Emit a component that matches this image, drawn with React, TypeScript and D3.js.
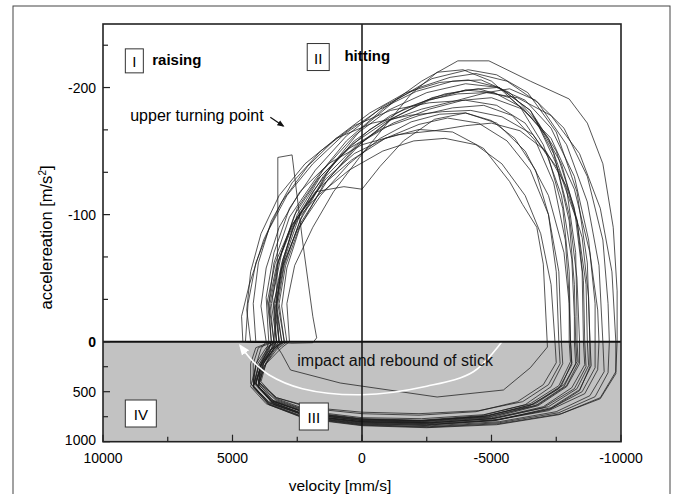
import React from 'react';
import * as d3 from 'd3';

// velocity [mm/s], acceleration [m/s^2] (negative = up on the chart)
// each loop is one stroke cycle
const loop01 = [[3300,0],[3450,-35],[3100,-70],[2500,-105],[1500,-135],[300,-162],[-1000,-182],[-2500,-196],[-4000,-203],[-5300,-200],[-6500,-182],[-7400,-148],[-8000,-100],[-8300,-50],[-8400,0],[-8400,220],[-7900,450],[-6800,640],[-5000,760],[-2500,805],[0,790],[2000,725],[3500,590],[4100,420],[3900,230],[3500,80]];
const loop02 = [[3200,5],[3300,-30],[3000,-62],[2300,-100],[1200,-138],[0,-168],[-1300,-190],[-2700,-207],[-4100,-214],[-5200,-210],[-6400,-196],[-7500,-165],[-8300,-118],[-8700,-62],[-8800,0],[-8850,240],[-8400,480],[-7300,660],[-5300,780],[-2800,825],[0,810],[2100,745],[3600,610],[4200,440],[4000,240],[3600,90],[3100,12],[2900,4]];
const loop03 = [[3400,0],[3600,-30],[3400,-62],[2800,-98],[1800,-128],[600,-158],[-800,-183],[-2300,-205],[-3700,-221],[-4900,-221],[-6500,-205],[-8000,-191],[-8700,-172],[-9300,-140],[-9700,-90],[-9850,-40],[-9850,0],[-9800,300],[-9200,560],[-7600,730],[-5200,830],[-2500,860],[0,840],[2200,770],[3700,620],[4300,450],[4100,250],[3700,90]];
const loop04 = [[3200,0],[3350,-30],[3000,-65],[2400,-100],[1400,-128],[300,-148],[-900,-160],[-2200,-167],[-3500,-165],[-4700,-152],[-5700,-126],[-6200,-108],[-6750,-90],[-7000,-61],[-7150,0],[-7160,53],[-6500,260],[-5460,483],[-2900,553],[840,413],[2760,283],[3100,120],[3300,40]];
const loop05 = [[3500,0],[3600,-30],[3300,-60],[2700,-92],[1800,-118],[700,-122],[0,-120],[-700,-138],[-1600,-158],[-2800,-175],[-4000,-180],[-5200,-172],[-6300,-150],[-7200,-115],[-7800,-70],[-8000,-30],[-8050,0],[-8100,230],[-7600,470],[-6400,650],[-4600,750],[-2200,790],[0,775],[1900,715],[3300,590],[4000,430],[3900,240],[3600,90]];
const loop06 = [[3000,0],[3250,-30],[3000,-60],[2400,-95],[1400,-130],[200,-155],[-1200,-172],[-2600,-183],[-3900,-190],[-5000,-192],[-6200,-183],[-7300,-160],[-8200,-120],[-8800,-70],[-9100,-25],[-9150,0],[-9100,280],[-8600,520],[-7200,690],[-5000,790],[-2500,835],[0,820],[2000,760],[3400,630],[4000,460],[3800,260],[3400,90]];
const loop07 = [[4500,0],[4400,-30],[4100,-62],[3600,-88],[2900,-115],[1900,-140],[700,-163],[-700,-183],[-2100,-197],[-3500,-205],[-4600,-206],[-5700,-196],[-6700,-175],[-7500,-140],[-8000,-95],[-8200,-45],[-8250,0],[-8300,200],[-7800,430],[-6700,620],[-4900,740],[-2400,790],[0,775],[2000,715],[3500,580],[4200,400],[4100,220],[3700,60],[3400,10],[4200,5]];
const loop08 = [[3100,0],[3300,-25],[3150,-55],[2700,-88],[1900,-118],[900,-145],[-300,-167],[-1700,-184],[-3200,-195],[-4500,-199],[-5700,-192],[-6800,-172],[-7700,-140],[-8300,-96],[-8550,-48],[-8600,0],[-8650,250],[-8200,470],[-7000,660],[-5000,770],[-2600,810],[0,800],[2100,740],[3500,600],[4100,410],[3800,210],[3400,70]];
const loop09 = [[3400,0],[3550,-30],[3250,-62],[2600,-95],[1600,-122],[400,-143],[-900,-160],[-2200,-171],[-3300,-176],[-4500,-172],[-5600,-158],[-6500,-135],[-7200,-100],[-7600,-55],[-7700,0],[-7750,220],[-7300,450],[-6300,630],[-4600,740],[-2300,785],[0,770],[1900,710],[3300,580],[4000,410],[3800,220],[3500,70]];
const loop10 = [[3600,0],[3700,-35],[3400,-70],[2800,-105],[1800,-135],[600,-162],[-800,-185],[-2200,-200],[-3400,-208],[-4400,-211],[-5600,-205],[-6800,-188],[-7900,-155],[-8700,-110],[-9150,-60],[-9300,0],[-9350,300],[-8800,540],[-7500,700],[-5300,800],[-2700,840],[0,825],[2200,755],[3600,620],[4200,450],[4000,250],[3700,90]];
const loop11 = [[3300,0],[3500,-30],[3200,-65],[2600,-100],[1700,-128],[500,-152],[-800,-168],[-2200,-178],[-3500,-184],[-4700,-186],[-5800,-178],[-6700,-158],[-7400,-125],[-7850,-80],[-8000,-35],[-8000,0],[-8050,200],[-7600,440],[-6500,620],[-4700,730],[-2300,770],[0,760],[1900,700],[3300,570],[3900,400],[3700,210],[3400,60]];
const loop12 = [[2900,0],[3100,-28],[2900,-58],[2400,-90],[1500,-123],[300,-152],[-1100,-175],[-2600,-190],[-4000,-198],[-5200,-200],[-6300,-190],[-7300,-168],[-8200,-130],[-8750,-80],[-9000,-30],[-9000,0],[-9000,260],[-8500,500],[-7200,680],[-5100,790],[-2500,830],[0,815],[2000,755],[3400,620],[4000,450],[3800,250],[3300,80]];
const loop13 = [[3500,0],[3650,-32],[3350,-62],[2700,-92],[1700,-115],[500,-135],[-800,-150],[-2000,-158],[-3200,-160],[-4400,-155],[-5400,-140],[-6300,-115],[-6900,-85],[-7300,-45],[-7450,0],[-7500,210],[-7000,430],[-6000,600],[-4400,700],[-2200,735],[0,720],[1900,670],[3300,560],[4000,400],[3900,220],[3600,70]];
const loop14 = [[4600,0],[4650,-20],[4350,-45],[3800,-80],[3100,-110],[2100,-138],[1000,-160],[-300,-180],[-1700,-196],[-3000,-204],[-4100,-206],[-5300,-200],[-6500,-182],[-7500,-150],[-8200,-105],[-8500,-55],[-8550,0],[-8600,230],[-8100,460],[-7000,650],[-5000,770],[-2500,815],[0,800],[2100,740],[3500,600],[4100,420],[3900,230],[3600,50],[3300,8],[4300,6]];
const loop15 = [[3200,0],[3400,-30],[3100,-62],[2500,-98],[1500,-130],[300,-158],[-1100,-178],[-2500,-190],[-3700,-195],[-4800,-196],[-6000,-192],[-7300,-178],[-8400,-148],[-9200,-105],[-9650,-55],[-9800,0],[-9800,320],[-9200,570],[-7700,720],[-5300,820],[-2600,855],[0,835],[2200,765],[3600,630],[4200,460],[4000,260],[3500,80]];
const loop16 = [[3000,0],[3200,-30],[2950,-60],[2350,-94],[1300,-128],[100,-155],[-1200,-176],[-2700,-192],[-4000,-198],[-5100,-196],[-6200,-184],[-7200,-160],[-7900,-120],[-8250,-70],[-8300,-20],[-8300,0],[-8350,210],[-7900,440],[-6800,630],[-4900,750],[-2400,795],[0,785],[2000,725],[3400,595],[4100,425],[3900,235],[3400,70]];
const loop17 = [[4300,0],[4450,-25],[4300,-55],[3900,-85],[3200,-115],[2200,-140],[1000,-160],[-400,-172],[-1800,-178],[-3100,-181],[-4200,-182],[-5400,-177],[-6600,-163],[-7600,-135],[-8300,-95],[-8650,-45],[-8700,0],[-8750,240],[-8300,470],[-7200,650],[-5200,765],[-2700,810],[0,800],[2100,735],[3600,600],[4300,420],[4300,220],[4100,60],[3600,10],[4000,4]];
const loop18 = [[2800,0],[2900,-30],[2600,-60],[1900,-90],[1100,-118],[100,-145],[-900,-170],[-1900,-195],[-2900,-212],[-3900,-214],[-5000,-205],[-6100,-185],[-7000,-155],[-7700,-115],[-8100,-65],[-8200,-20],[-8200,0],[-8250,220],[-7800,450],[-6700,640],[-4900,755],[-2400,800],[0,790],[2000,730],[3400,600],[4000,420],[3700,220],[3100,60]];
const loop19 = [[3700,0],[3900,-28],[3700,-58],[3200,-90],[2400,-118],[1300,-140],[0,-155],[-1400,-163],[-2800,-166],[-4000,-170],[-5000,-172],[-6100,-166],[-7100,-150],[-7900,-122],[-8500,-82],[-8750,-35],[-8800,0],[-8800,250],[-8400,490],[-7300,670],[-5200,780],[-2600,820],[0,805],[2100,745],[3600,610],[4200,440],[4100,240],[3900,70]];
const loop20 = [[3100,0],[3300,-30],[3050,-65],[2500,-100],[1600,-130],[400,-155],[-900,-173],[-2300,-183],[-3700,-190],[-4800,-196],[-5700,-199],[-6700,-190],[-7800,-168],[-8700,-130],[-9300,-80],[-9500,-30],[-9550,0],[-9500,310],[-9000,550],[-7600,710],[-5300,810],[-2600,850],[0,830],[2200,760],[3600,625],[4200,450],[3900,250],[3400,80]];
const loop21 = [[4100,0],[4200,-30],[4000,-62],[3500,-95],[2700,-125],[1600,-150],[300,-170],[-1100,-182],[-2600,-188],[-4000,-190],[-5200,-186],[-6300,-172],[-7200,-145],[-7750,-105],[-8000,-55],[-8050,0],[-8100,210],[-7700,440],[-6600,625],[-4800,745],[-2400,790],[0,780],[2000,720],[3500,590],[4200,410],[4200,220],[4000,60],[3500,12]];
const loop22 = [[3300,0],[3400,-30],[3100,-58],[2500,-88],[1600,-115],[500,-140],[-700,-160],[-1900,-173],[-3000,-179],[-4000,-180],[-5000,-174],[-5900,-160],[-6700,-135],[-7200,-100],[-7500,-55],[-7600,0],[-7650,220],[-7200,430],[-6200,600],[-4500,690],[-2200,720],[0,705],[1900,660],[3300,560],[4000,400],[3800,220],[3500,70]];
// the odd one near the upper turning point
const spike = [[3400,5],[3300,-30],[3250,-90],[3250,-145],[2700,-147],[2300,-80],[1900,-20],[1750,-3],[1900,10],[2700,15]];

const loops = [loop01, loop02, loop03, loop04, loop05, loop06, loop07, loop08,
  loop09, loop10, loop11, loop12, loop13, loop14, loop15, loop16,
  loop17, loop18, loop19, loop20, loop21, loop22, spike];

// white "impact and rebound" arrow
const reboundArc = [[-5400,0],[-4300,300],[-2500,445],[0,530],[2300,470],[3600,330],[4200,200],[4700,40]];

const xMajor = [10000, 5000, 0, -5000, -10000];
const xMinor = [7500, 2500, -2500, -7500];
const yMajor = [-200, -100, 0, 500, 1000];
const yMinor = [-233.3, -166.7, -133.3, -66.7, -33.3, 250, 750];

const W = 675, H = 494;
const x = d3.scaleLinear().domain([10000, -10000]).range([103, 621]);
// upper part in m/s^2 stretched, lower (deceleration) part compressed
const y = d3.scaleLinear().domain([-250, 0, 1000]).range([24, 341.7, 441.7]);

const font = 'Arial, "Liberation Sans", Helvetica, sans-serif';

function Box({v, a, w, h, label}: {v: number, a: number, w: number, h: number, label: string}) {
  const cx = x(v), cy = y(a);
  return (
    <g>
      <rect x={cx - w/2} y={cy - h/2} width={w} height={h} fill="white" stroke="#333" strokeWidth={1}/>
      <text x={cx} y={cy + 1} textAnchor="middle" dominantBaseline="central" fontSize={15}>{label}</text>
    </g>
  );
}

export default function App() {
  const line = d3.line<number[]>().x(d => x(d[0])).y(d => y(d[1])).curve(d3.curveLinearClosed);
  const arcLine = d3.line<number[]>().x(d => x(d[0])).y(d => y(d[1])).curve(d3.curveCatmullRom);
  const [x0, x1] = x.range();

  return (
    <svg width={W} height={H} style={{position: 'absolute', left: 0, top: 0, fontFamily: font}}>
      <defs>
        <clipPath id="plot"><rect x={x0} y={y(-250)} width={x1 - x0} height={y(1000) - y(-250)}/></clipPath>
        <marker id="whiteHead" viewBox="0 0 10 10" refX="8" refY="5" markerWidth="7" markerHeight="7" orient="auto">
          <path d="M0,1 L10,5 L0,9 Z" fill="white"/>
        </marker>
        <marker id="blackHead" viewBox="0 0 10 10" refX="8" refY="5" markerWidth="6" markerHeight="6" orient="auto">
          <path d="M0,1 L10,5 L0,9 Z" fill="#111"/>
        </marker>
      </defs>
      <rect x={0} y={0} width={W} height={H} fill="white"/>
      {/* outer frame */}
      <rect x={13} y={6} width={657} height={500} fill="none" stroke="#444" strokeWidth={1}/>

      {/* shaded deceleration half */}
      <rect x={x0} y={y(0)} width={x1 - x0} height={y(1000) - y(0)} fill="#c2c2c2"/>

      <g clipPath="url(#plot)">
        {loops.map((d, i) => (
          <path key={i} d={line(d) || ''} fill="none" stroke="#1c1c1c" strokeWidth={0.75} strokeLinejoin="round"/>
        ))}
      </g>

      <path d={arcLine(reboundArc) || ''} fill="none" stroke="white" strokeWidth={1.6} markerEnd="url(#whiteHead)"/>

      {/* zero lines */}
      <line x1={x(0)} x2={x(0)} y1={y(-250)} y2={y(1000)} stroke="#111" strokeWidth={1.5}/>
      <line x1={x0} x2={x1} y1={y(0)} y2={y(0)} stroke="#111" strokeWidth={2}/>

      {/* ticks, pointing inward */}
      {xMajor.map(t => <line key={'xM' + t} x1={x(t)} x2={x(t)} y1={y(1000)} y2={y(1000) - 7} stroke="#222" strokeWidth={1.2}/>)}
      {xMinor.map(t => <line key={'xm' + t} x1={x(t)} x2={x(t)} y1={y(1000)} y2={y(1000) - 5} stroke="#222" strokeWidth={1.2}/>)}
      {yMajor.map(t => <line key={'yM' + t} x1={x0} x2={x0 + 7} y1={y(t)} y2={y(t)} stroke="#222" strokeWidth={1.2}/>)}
      {yMinor.map(t => <line key={'ym' + t} x1={x0} x2={x0 + 5} y1={y(t)} y2={y(t)} stroke="#222" strokeWidth={1.2}/>)}

      <rect x={x0} y={y(-250)} width={x1 - x0} height={y(1000) - y(-250)} fill="none" stroke="#222" strokeWidth={1.6}/>

      {/* tick labels */}
      {xMajor.map(t => (
        <text key={'xl' + t} x={x(t)} y={463} textAnchor="middle" fontSize={14}>{String(t)}</text>
      ))}
      {yMajor.map(t => (
        <text key={'yl' + t} x={x0 - 7} y={t === 1000 ? y(t) - 2 : y(t)} textAnchor="end" dominantBaseline="central"
          fontSize={14} fontWeight={t === 0 ? 'bold' : 'normal'}>{String(t)}</text>
      ))}

      {/* axis titles */}
      <text x={x(0) - 22} y={491} textAnchor="middle" fontSize={15.5}>velocity [mm/s]</text>
      <text transform={`translate(52, ${y(-82)}) rotate(-90)`} textAnchor="middle" fontSize={16.5}>
        accelereation [m/s<tspan dy={-6} fontSize={10}>2</tspan><tspan dy={6}>]</tspan>
      </text>

      {/* phase boxes and notes */}
      <Box v={8790} a={-221} w={18} h={24} label="I"/>
      <text x={x(8100)} y={y(-218)} fontSize={15} fontWeight="bold">raising</text>
      <Box v={1690} a={-224} w={22} h={27} label="II"/>
      <text x={x(680)} y={y(-221)} fontSize={15} fontWeight="bold">hitting</text>
      <Box v={8540} a={718} w={31} h={27} label="IV"/>
      <Box v={1860} a={748} w={29} h={27} label="III"/>

      <text x={x(8950)} y={y(-174)} fontSize={16}>upper turning point</text>
      <line x1={x(3540)} y1={y(-176.7)} x2={x(3040)} y2={y(-169.7)} stroke="#111" strokeWidth={1.2} markerEnd="url(#blackHead)"/>

      <text x={x(2500)} y={y(243)} fontSize={16} fill="#111">impact and rebound of stick</text>
    </svg>
  );
}
